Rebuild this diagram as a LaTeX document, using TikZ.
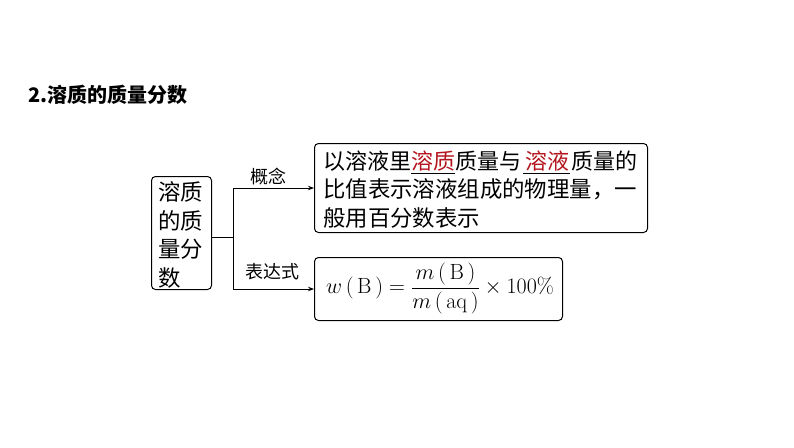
\RequirePackage{fix-cm}
\documentclass[tikz,border=0pt]{standalone}
\usepackage{amsmath}
\usepackage{fontspec}
\newfontfamily\cjk{Noto Sans CJK SC}
\usetikzlibrary{arrows.meta}
\definecolor{darkred}{RGB}{180,20,30}
\begin{document}
\begin{tikzpicture}[x=1pt,y=-1pt,
  box/.style={draw, rounded corners=4pt, line width=1pt, inner sep=0pt},
  txt/.style={font=\cjk\fontsize{22.4}{22.4}\selectfont, anchor=base west, inner sep=0pt},
  lbl/.style={font=\cjk\fontsize{18}{18}\selectfont, inner sep=0pt},
  conn/.style={line width=1pt},
  arr/.style={conn, -{Stealth[length=6pt,width=4.5pt]}}]
\useasboundingbox (0,0) rectangle (794,447);
% title
\node[anchor=west, inner sep=0pt, font=\cjk\bfseries\fontsize{20}{20}\selectfont] (title) at (28,95) {2.溶质的质量分数};
% left box
\node[box, anchor=north west, minimum width=60pt, minimum height=113pt] (L) at (151,176) {};
\node[txt] (L1) at (158,200.5) {溶质};
\node[txt] (L2) at (158,229) {的质};
\node[txt] (L3) at (158,257.5) {量分};
\node[txt] (L4) at (158,286) {数};
% top right box
\node[box, anchor=north west, minimum width=333pt, minimum height=89pt] (T) at (314,143) {};
\node[txt, font=\cjk\fontsize{22}{22}\selectfont] (T1) at (323,169) {以溶液里\underline{\textcolor{darkred}{溶质}}质量与\hspace{2pt}\underline{\hspace{2pt}\textcolor{darkred}{溶液}\hspace{1pt}}\hspace{1pt}质量的};
\node[txt] (T2) at (323,197.5) {比值表示溶液组成的物理量，一};
\node[txt] (T3) at (323,226) {般用百分数表示};
% bottom right box
\node[box, anchor=north west, minimum width=248pt, minimum height=63pt] (B) at (314,257) {};
\node[inner sep=0pt, font=\fontsize{22}{26}\selectfont] (F) at (440,288.5)
  {$w\,(\,\mathrm{B}\,) = \dfrac{m\,(\,\mathrm{B}\,)}{m\,(\,\mathrm{aq}\,)} \times 100\%$};
% connectors
\coordinate (J) at (233,237);
\draw[conn] (L.east |- J) -- (J);
\draw[arr] (J) |- (T.west);
\draw[arr] (J) |- (B.west);
\node[lbl] (C1) at (268,177) {概念};
\node[lbl] (C2) at (272,272) {表达式};
\end{tikzpicture}
\end{document}
